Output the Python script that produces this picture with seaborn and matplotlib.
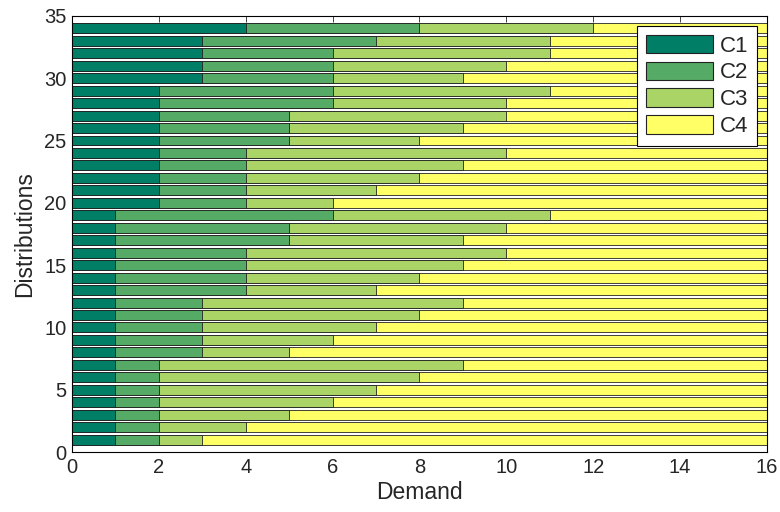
import matplotlib
matplotlib.use("Agg")
import matplotlib.pyplot as plt
from matplotlib.patches import Patch
import seaborn as sns
import pandas as pd
import numpy as np

distributions = list(range(1, 35))
c1 = [1,1,1,1,1,1,1,1,1,1,1,1,1,1,1,1,1,1,1,2,2,2,2,2,2,2,2,2,2,3,3,3,3,4]
c2 = [1,1,1,1,1,1,1,2,2,2,2,2,3,3,3,3,4,4,5,2,2,2,2,2,3,3,3,4,4,3,3,3,4,4]
c3 = [1,2,3,4,5,6,7,2,3,4,5,6,3,4,5,6,4,5,5,2,3,4,5,6,3,4,5,4,5,3,4,5,4,4]
c4 = [13,12,11,10,9,8,7,11,10,9,8,7,9,8,7,6,7,6,5,10,9,8,7,6,8,7,6,6,5,7,6,5,5,4]
series = ["C1", "C2", "C3", "C4"]
colors = ["#007F66", "#55AA66", "#AAD466", "#FFFF66"]
xticks = [0, 2, 4, 6, 8, 10, 12, 14, 16]
yticks = [0, 5, 10, 15, 20, 25, 30, 35]

df = pd.DataFrame({"Distribution": distributions, "C1": c1, "C2": c2, "C3": c3, "C4": c4})
cum = df[series].cumsum(axis=1)

sns.set_style("white")
plt.rcParams["font.family"] = ["Liberation Sans", "DejaVu Sans"]

fig = plt.figure(figsize=(7.8, 5.12), dpi=100)
ax = fig.add_axes([0.0923, 0.117, 0.891, 0.852])

for name, col in reversed(list(zip(series, colors))):
    sns.barplot(x=cum[name].values, y=df["Distribution"].values, orient="h",
                native_scale=True, width=0.8, color=col, edgecolor="#222222",
                linewidth=0.6, errorbar=None, ax=ax, saturation=1)

ax.set_xlim(0, 16)
ax.set_ylim(0, 35)
ax.set_xticks(xticks)
ax.set_yticks(yticks)
ax.tick_params(direction="in", top=True, right=True, labelsize=14.5, length=4,
               width=0.6, pad=4)
ax.set_xlabel("Demand", fontsize=16.5, labelpad=3)
ax.set_ylabel("Distributions", fontsize=16.5, labelpad=6)
for s in ax.spines.values():
    s.set_color("black")
    s.set_linewidth(0.8)

handles = [Patch(facecolor=c, edgecolor="#222222", linewidth=0.8) for c in colors]
leg = ax.legend(handles, series, loc="upper right", fontsize=16, frameon=True,
                fancybox=False, framealpha=1, edgecolor="black",
                handlelength=3.0, handleheight=0.9, labelspacing=0.22,
                borderaxespad=0.45, handletextpad=0.3, borderpad=0.4)
leg.get_frame().set_linewidth(0.8)

fig.savefig("out.png", dpi=100)
